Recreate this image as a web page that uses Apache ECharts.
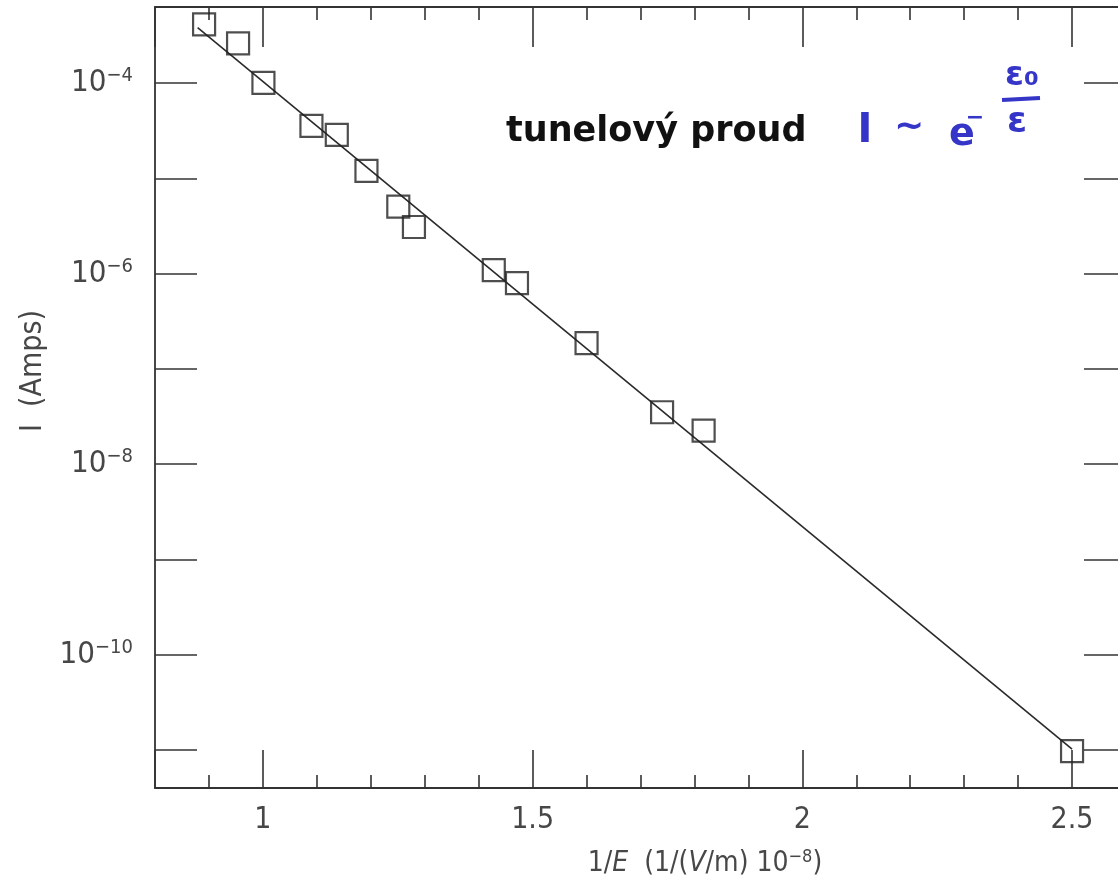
<!DOCTYPE html>
<html>
<head>
<meta charset="utf-8">
<script src="https://cdn.jsdelivr.net/npm/echarts@6/dist/echarts.min.js"></script>
<style>
  html, body { margin: 0; padding: 0; background: #fff; }
  #chart { width: 1118px; height: 891px; }
</style>
</head>
<body>
<div id="chart"></div>
<script>
// 1/E values (1/(V/m) 10^-8)
var invField = [0.891, 0.954, 1.001, 1.090, 1.137, 1.192, 1.251, 1.280, 1.428, 1.471, 1.600, 1.740, 1.817, 2.500];
// measured current, Amps
var current = [4.15e-4, 2.62e-4, 1.01e-4, 3.56e-5, 2.86e-5, 1.20e-5, 5.07e-6, 3.09e-6, 1.09e-6, 7.97e-7, 1.87e-7, 3.51e-8, 2.25e-8, 9.7e-12];
// straight fit drawn through the points (end points)
var fitX = [0.879, 2.5];
var fitY = [3.84e-4, 1.02e-11];

var xMin = 0.8, xMax = 2.6;
var yMin = Math.pow(10, -11.4), yMax = Math.pow(10, -3.2);

var AXIS_COLOR = '#333';
var LABEL_COLOR = '#474747';
var LABEL_FONT = '"Liberation Sans Narrow", "DejaVu Sans Condensed", "Liberation Sans", sans-serif';
var INK = '#3535c8';
var HAND = '"DejaVu Sans", sans-serif';

var points = invField.map(function (x, i) { return [x, current[i]]; });
var fitLine = fitX.map(function (x, i) { return [x, fitY[i]]; });

function xLabel(v) {
    // only the half-unit ticks get a label
    if (Math.abs(v * 2 - Math.round(v * 2)) > 1e-6) return '';
    return String(+v.toFixed(1));
}

function yLabel(v) {
    var e = Math.log(v) / Math.LN10;
    var r = Math.round(e);
    if (Math.abs(e - r) > 0.01 || r % 2 !== 0) return '';
    return '{b|10}{s|\u2212' + Math.abs(r) + '}';
}

function xAxisOpt(pos, majorLen, showLabel) {
    return {
        type: 'value',
        position: pos,
        min: xMin,
        max: xMax,
        splitNumber: 4,
        axisLine: { show: true, onZero: false, lineStyle: { color: AXIS_COLOR, width: 1.8 } },
        axisTick: { show: true, inside: true, length: majorLen, lineStyle: { color: AXIS_COLOR, width: 1.6 } },
        minorTick: { show: true, splitNumber: 5, length: 13, lineStyle: { color: AXIS_COLOR, width: 1.6 } },
        splitLine: { show: false },
        minorSplitLine: { show: false },
        axisLabel: {
            show: showLabel,
            margin: 17,
            color: LABEL_COLOR,
            fontFamily: LABEL_FONT,
            fontSize: 30,
            formatter: xLabel
        }
    };
}

function yAxisOpt(pos, showLabel) {
    return {
        type: 'log',
        logBase: 10,
        position: pos,
        min: yMin,
        max: yMax,
        axisLine: { show: true, onZero: false, lineStyle: { color: AXIS_COLOR, width: 1.8 } },
        axisTick: { show: true, inside: true, length: 42, lineStyle: { color: AXIS_COLOR, width: 1.6 } },
        splitLine: { show: false },
        axisLabel: {
            show: showLabel,
            margin: 22,
            color: LABEL_COLOR,
            formatter: yLabel,
            rich: {
                b: { fontFamily: LABEL_FONT, fontSize: 31, lineHeight: 34, color: LABEL_COLOR },
                s: { fontFamily: LABEL_FONT, fontSize: 20, lineHeight: 14, verticalAlign: 'top', color: LABEL_COLOR }
            }
        }
    };
}

function ink(text, x, y, size) {
    return {
        type: 'text',
        x: x, y: y,
        style: { text: text, font: 'bold ' + size + 'px ' + HAND, fill: INK, align: 'center', verticalAlign: 'middle' }
    };
}

var chart = echarts.init(document.getElementById('chart'), null, { renderer: 'canvas' });

chart.setOption({
    backgroundColor: '#fff',
    animation: false,
    grid: {
        left: 155,
        top: 7,
        width: 971,
        height: 781,
        containLabel: false,
        outerBoundsMode: 'none'
    },
    xAxis: [xAxisOpt('bottom', 38, true), xAxisOpt('top', 40, false)],
    yAxis: [yAxisOpt('left', true), yAxisOpt('right', false)],
    series: [
        {
            name: 'fit',
            type: 'line',
            data: fitLine,
            showSymbol: false,
            symbol: 'none',
            lineStyle: { color: '#2a2a2a', width: 1.6 },
            z: 2
        },
        {
            name: 'I',
            type: 'scatter',
            data: points,
            symbol: 'rect',
            symbolSize: 22,
            itemStyle: { color: 'rgba(0,0,0,0)', borderColor: '#222', borderWidth: 2.2 },
            z: 3
        }
    ],
    graphic: [
        {
            type: 'text',
            x: 33, y: 371,
            rotation: Math.PI / 2,
            style: {
                text: 'I  (Amps)',
                font: '30px ' + LABEL_FONT,
                fill: LABEL_COLOR,
                align: 'center',
                verticalAlign: 'middle'
            }
        },
        {
            type: 'text',
            x: 705, y: 864,
            style: {
                text: '{n|1/}{i|E}{n|  (1/(}{i|V}{n|/m) 10}{s|\u22128}{n|)}',
                align: 'center',
                verticalAlign: 'middle',
                rich: {
                    n: { font: '28px ' + LABEL_FONT, fill: LABEL_COLOR, lineHeight: 32 },
                    i: { font: 'italic 28px ' + LABEL_FONT, fill: LABEL_COLOR, lineHeight: 32 },
                    s: { font: '18px ' + LABEL_FONT, fill: LABEL_COLOR, lineHeight: 12, verticalAlign: 'top' }
                }
            }
        },
        {
            type: 'text',
            x: 506, y: 132,
            style: {
                text: 'tunelový proud',
                font: 'bold 35px ' + HAND,
                fill: '#111',
                align: 'left',
                verticalAlign: 'middle'
            }
        },
        ink('I', 865, 132, 40),
        ink('\u223C', 909, 128, 36),
        ink('e', 962, 135, 38),
        ink('\u2212', 975, 118, 22),
        ink('\u03B5\u2080', 1022, 76, 34),
        {
            type: 'line',
            shape: { x1: 1002, y1: 100, x2: 1040, y2: 98 },
            style: { stroke: INK, lineWidth: 4 }
        },
        ink('\u03B5', 1017, 123, 36)
    ]
});
</script>
</body>
</html>
